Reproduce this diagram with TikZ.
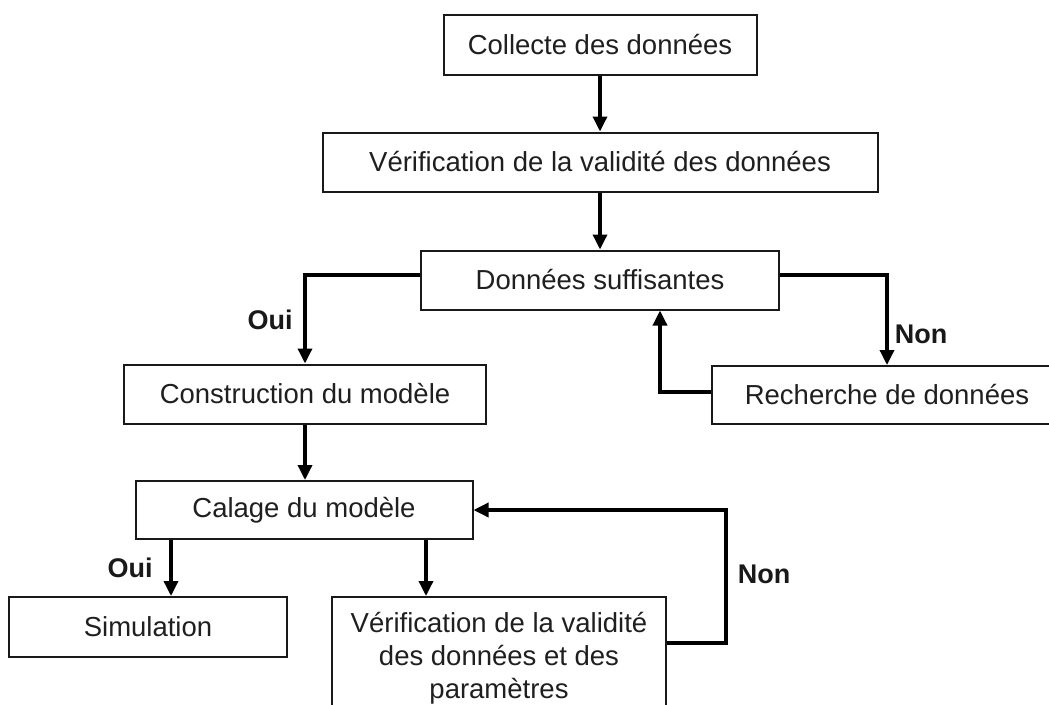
\documentclass[tikz,border=0pt]{standalone}
\usepackage{fontspec}
\setmainfont{Liberation Sans}
\usetikzlibrary{arrows.meta,calc}
\begin{document}
\begin{tikzpicture}[x=1pt,y=-1pt,
  box/.style={draw=black!90,line width=2pt,inner sep=0pt,align=center,
    text=black!88,font=\fontsize{27.5}{33}\selectfont},
  link/.style={draw=black,line width=3.4pt,
    -{Triangle[length=15pt,width=14pt]}},
  tag/.style={font=\fontsize{27}{32}\selectfont\bfseries,text=black!90,inner sep=0pt}]
\clip (0,0) rectangle (1049,704);
\fill[white] (0,0) rectangle (1049,704);

% boxes
\node[box,minimum width=313pt,minimum height=60pt] (collecte) at (600,45) {Collecte des données};
\node[box,minimum width=555pt,minimum height=59pt] (verif) at (600,162) {Vérification de la validité des données};
\node[box,minimum width=358pt,minimum height=59pt] (suff) at (600,280) {Données suffisantes};
\node[box,minimum width=350pt,minimum height=58pt] (rech) at (887,395) {Recherche de données};
\node[box,minimum width=362pt,minimum height=59pt] (constr) at (305,394) {Construction du modèle};
\node[box,minimum width=337pt,minimum height=58pt] (calage) at (304,510) {Calage du modèle};
\node[box,minimum width=278pt,minimum height=60pt] (simul) at (148,627) {Simulation};
\node[box,minimum width=334pt,minimum height=122pt] (verifp) at (499,658)
  {Vérification de la validité\\des données et des\\paramètres};

\coordinate (loop) at (726,510);

% connectors
\draw[link] (collecte.south) -- (verif.north);
\draw[link] (verif.south) -- (suff.north);
\draw[link] ([yshift=5pt]suff.east) -| (rech.north);
\draw[link] ([yshift=5pt]suff.west) -| (constr.north);
\draw[link] ([yshift=3pt]rech.west) -| ([xshift=60pt]suff.south);
\draw[link] (constr.south) -- (constr.south |- calage.north);
\draw[link] ([xshift=-133pt]calage.south) -- ([xshift=-133pt]calage.south |- simul.north);
\draw[link] ([xshift=122pt]calage.south) -- ([xshift=122pt]calage.south |- verifp.north);
\draw[link] ([yshift=15pt]verifp.east) -| (loop) -- (calage.east);

% branch labels
\node[tag] (oui1) at (270,320) {Oui};
\node[tag] (non1) at (921,334) {Non};
\node[tag] (oui2) at (130,568) {Oui};
\node[tag] (non2) at (764,574) {Non};
\end{tikzpicture}
\end{document}
